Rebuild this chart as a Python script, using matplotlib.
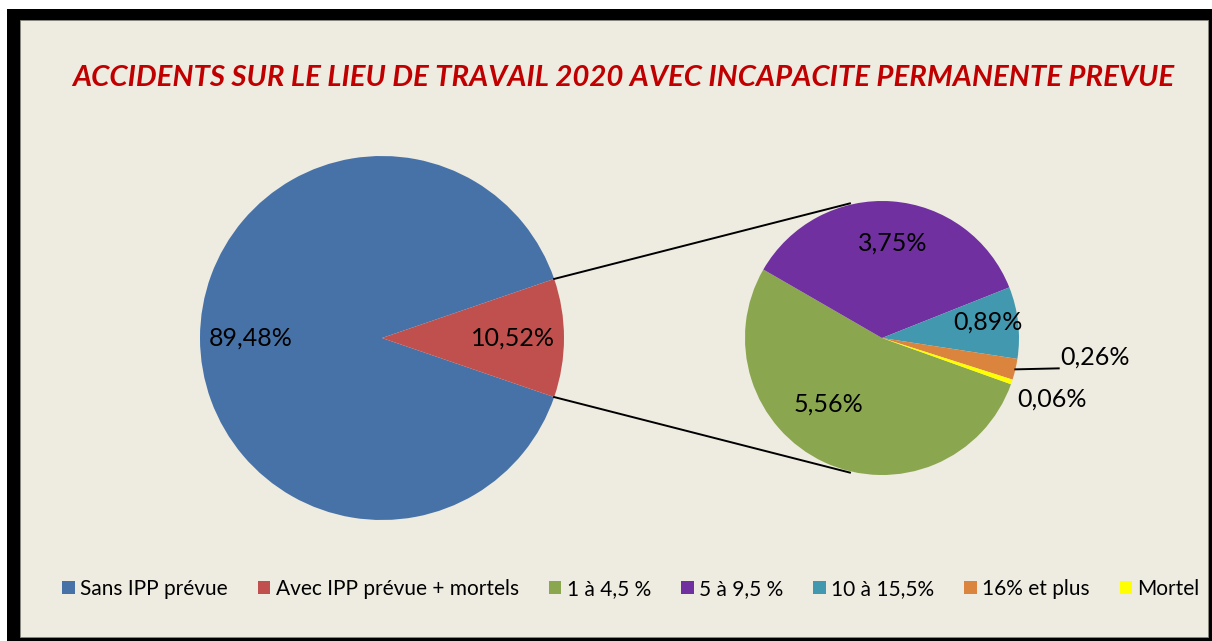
import numpy as np
import matplotlib.pyplot as plt
from matplotlib.patches import Rectangle
# # --------------------------------------------------------------------------------------------------------------------
plt.rcParams['font.family'] = ['Lato', 'DejaVu Sans']

main_labels = ['Sans IPP prévue', 'Avec IPP prévue + mortels']
main_vals = [89.48, 10.52]
main_colors = ['#4672A8', '#C0504D']

sub_labels = ['1 à 4,5 %', '5 à 9,5 %', '10 à 15,5%', '16% et plus', 'Mortel']
sub_vals = [5.56, 3.75, 0.89, 0.26, 0.06]
sub_colors = ['#8AA64F', '#7030A0', '#4198AF', '#DB843D', '#FFFF00']

title = 'ACCIDENTS SUR LE LIEU DE TRAVAIL 2020 AVEC INCAPACITE PERMANENTE PREVUE'
# # --------------------------------------------------------------------------------------------------------------------
W, H = 1212, 641
bg = '#EEEBE0'
fmt = lambda v: ('%.2f%%' % v).replace('.', ',')

fig = plt.figure(figsize=(W / 100, H / 100), dpi=100)
fig.patch.set_facecolor('white')
ax = fig.add_axes([0, 0, 1, 1])

# chart frame (black border + tan area)
ax.add_patch(Rectangle((7, 0), W - 7, H - 9, facecolor='black', lw=0, zorder=0))
ax.add_patch(Rectangle((20, 4), 1188, 617, facecolor=bg, edgecolor='#8a8a80', lw=0.6, zorder=0))

c1, r1 = (382, 303), 182
c2, r2 = (882, 303), 137

red_ang = 360 * main_vals[1] / sum(main_vals) / 2
w1, t1 = ax.pie(main_vals, colors=main_colors, startangle=red_ang, center=c1, radius=r1,
                wedgeprops=dict(lw=0), labels=None)
for w, v in zip(w1, main_vals):
    mid = np.deg2rad((w.theta1 + w.theta2) / 2)
    ax.text(c1[0] + 0.72 * r1 * np.cos(mid), c1[1] + 0.72 * r1 * np.sin(mid), fmt(v),
            ha='center', va='center', fontsize=18)

sub_span = 360 * sub_vals[0] / sum(sub_vals)
w2, t2 = ax.pie(sub_vals, colors=sub_colors, startangle=150 + sub_span - 360, counterclock=False,
                center=c2, radius=r2, wedgeprops=dict(lw=0), labels=None)

lab_dist = [0.62, 0.70, 0.78, 1.56, 1.32]
lab_shift = [-14, -2, 2, 8, -1]
for i, (w, v) in enumerate(zip(w2, sub_vals)):
    mid = np.deg2rad((w.theta1 + w.theta2) / 2 + lab_shift[i])
    x = c2[0] + lab_dist[i] * r2 * np.cos(mid)
    y = c2[1] + lab_dist[i] * r2 * np.sin(mid)
    ax.text(x, y, fmt(v), ha='center', va='center', fontsize=18)
    if i == 3:
        m0 = np.deg2rad((w.theta1 + w.theta2) / 2)
        ex, ey = c2[0] + r2 * np.cos(m0), c2[1] + r2 * np.sin(m0)
        ax.plot([ex, c2[0] + 1.29 * r2], [ey, ey + 1], color='black', lw=1.4)

# connector lines between the two pies
for s in (1, -1):
    a1 = np.deg2rad(s * red_ang)
    a2 = np.deg2rad(s * 103.4)
    ax.plot([c1[0] + r1 * np.cos(a1), c2[0] + 1.01 * r2 * np.cos(a2)],
            [c1[1] + r1 * np.sin(a1), c2[1] + 1.01 * r2 * np.sin(a2)], color='black', lw=1.4)

ax.set_xlim(0, W)
ax.set_ylim(0, H)
ax.set_aspect('auto')
ax.axis('off')

fig.text(623.5 / W, 1 - 78 / H, title, ha='center', va='center', color='#C00000',
         fontsize=21.2, fontweight='bold', fontstyle='italic')

fig.legend(list(w1) + list(w2), main_labels + sub_labels, loc='center', bbox_to_anchor=(631 / W, 1 - 589 / H),
           ncol=7, frameon=False, handlelength=0.6, handleheight=0.6, handletextpad=0.25,
           columnspacing=1.45, fontsize=15)

plt.savefig('out.png', dpi=100, facecolor='white')
